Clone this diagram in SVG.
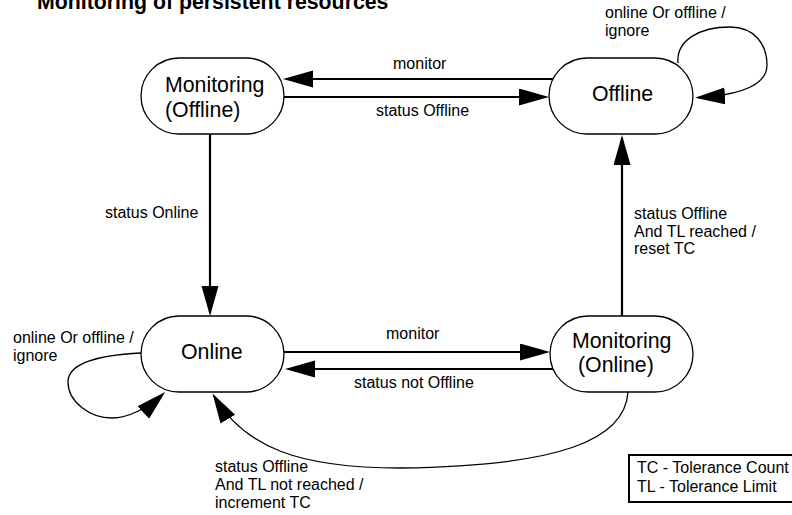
<svg xmlns="http://www.w3.org/2000/svg" width="792" height="515" viewBox="0 0 792 515">
<style>
text{font-family:"Liberation Sans",Arial,sans-serif;fill:#000}
.title{font-size:21.3px;font-weight:bold}
.node{font-size:21.3px}
.lbl{font-size:16px}
.state{fill:#fff;stroke:#000;stroke-width:1.3}
.edge{fill:none;stroke:#000;stroke-width:2.2}
.curve{fill:none;stroke:#000;stroke-width:1.3}
</style>
<defs>
<marker id="ah" markerUnits="userSpaceOnUse" markerWidth="31" markerHeight="18" refX="27" refY="8.5" orient="auto" viewBox="0 0 31 18">
<path d="M0,0 L30,8.5 L0,17 z" fill="#000"/>
</marker>
</defs>
<text class="title" x="37" y="9">Monitoring of persistent resources</text>
<g id="connectors">
<line class="edge" x1="553" y1="79" x2="286" y2="79" marker-end="url(#ah)"/>
<line class="edge" x1="284" y1="97" x2="546" y2="97" marker-end="url(#ah)"/>
<line class="edge" x1="210" y1="134" x2="210" y2="313" marker-end="url(#ah)"/>
<line class="edge" x1="622" y1="316" x2="622" y2="138" marker-end="url(#ah)"/>
<line class="edge" x1="284" y1="352" x2="547" y2="352" marker-end="url(#ah)"/>
<line class="edge" x1="553" y1="369" x2="288" y2="369" marker-end="url(#ah)"/>
<path class="curve" d="M678,63 C676,40 700,27 730,27 C755,27 767,45 767,65 C767,85 740,95 698,97.5" marker-end="url(#ah)"/>
<path class="curve" d="M141,353 C100,355 68,362 68,382 C68,402 90,418 112,418 C128,418 148,408 163,394" marker-end="url(#ah)"/>
<path class="curve" d="M628,392 C625,440 560,466 400,468 C300,468 245,448 214,396" marker-end="url(#ah)"/>
<text class="lbl" x="393" y="69">monitor</text>
<text class="lbl" x="376" y="116">status Offline</text>
<text class="lbl" x="105" y="218">status Online</text>
<text class="lbl" x="634" y="219">status Offline</text>
<text class="lbl" x="634" y="236.5">And TL reached /</text>
<text class="lbl" x="634" y="254">reset TC</text>
<text class="lbl" x="386" y="339">monitor</text>
<text class="lbl" x="354" y="388">status not Offline</text>
<text class="lbl" x="605" y="18">online Or offline /</text>
<text class="lbl" x="605" y="36">ignore</text>
<text class="lbl" x="13" y="343">online Or offline /</text>
<text class="lbl" x="13" y="361">ignore</text>
<text class="lbl" x="215" y="472">status Offline</text>
<text class="lbl" x="215" y="490">And TL not reached /</text>
<text class="lbl" x="215" y="508">increment TC</text>
</g>
<g id="monitoring-offline">
<rect class="state" x="141" y="58" width="143" height="76" rx="38" ry="38"/>
<text class="node" x="165" y="92">Monitoring</text>
<text class="node" x="165" y="117">(Offline)</text>
</g>
<g id="offline">
<rect class="state" x="549" y="58" width="144" height="76" rx="38" ry="38"/>
<text class="node" x="592" y="101">Offline</text>
</g>
<g id="online">
<rect class="state" x="141" y="316" width="143" height="76" rx="38" ry="38"/>
<text class="node" x="181" y="359">Online</text>
</g>
<g id="monitoring-online">
<rect class="state" x="550" y="316" width="143" height="76" rx="38" ry="38"/>
<text class="node" x="572" y="348">Monitoring</text>
<text class="node" x="578" y="372">(Online)</text>
</g>
<g id="legend">
<rect x="629" y="455" width="200" height="47" fill="none" stroke="#000" stroke-width="2"/>
<text class="lbl" x="637" y="473">TC - Tolerance Count</text>
<text class="lbl" x="637" y="492">TL - Tolerance Limit</text>
</g>
</svg>
